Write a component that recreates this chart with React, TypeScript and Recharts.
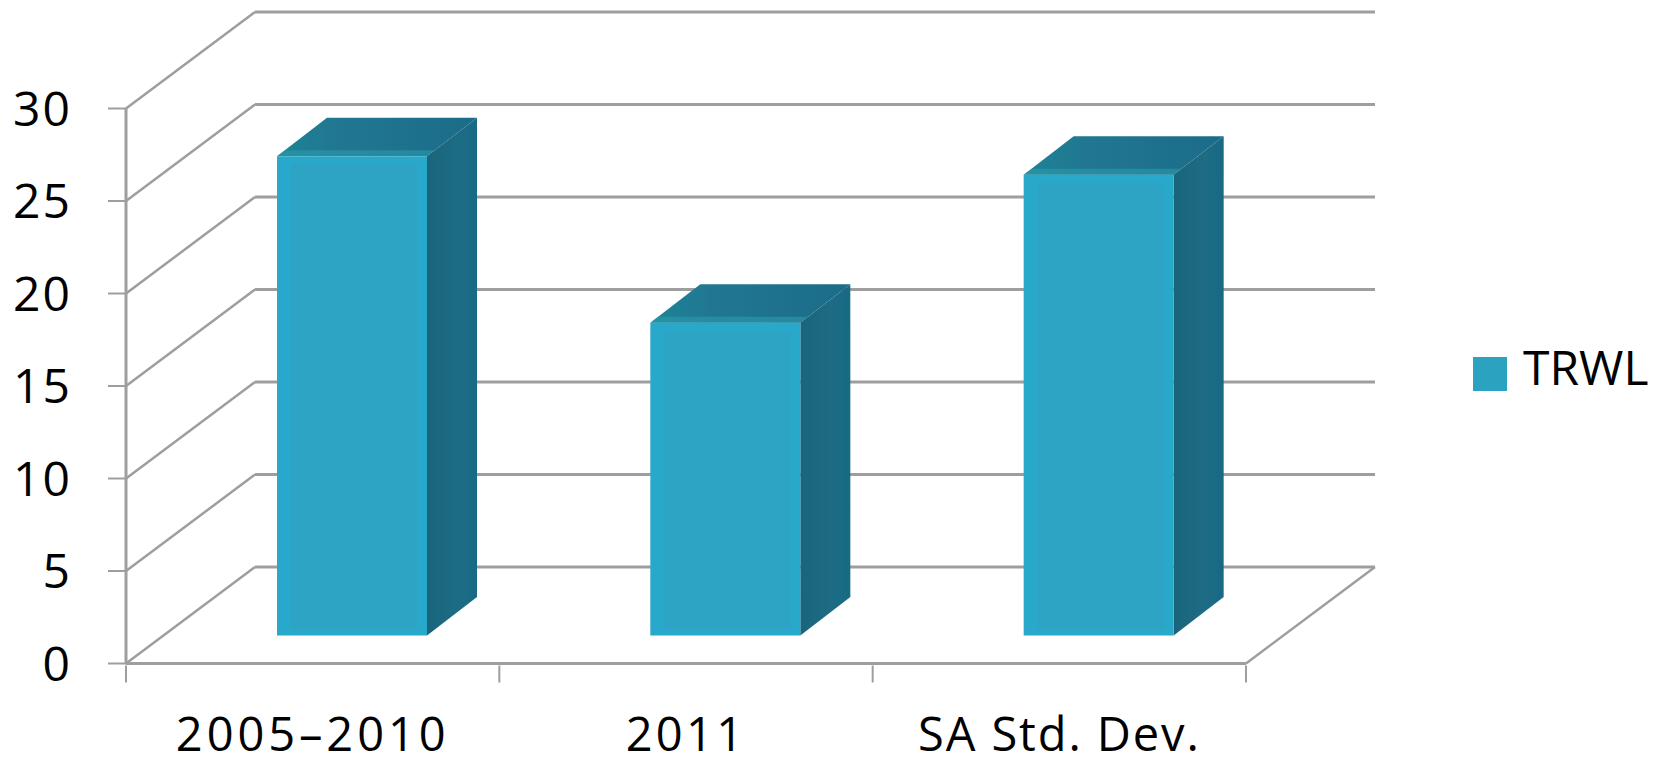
import { BarChart, Bar, XAxis, YAxis, CartesianGrid, Legend } from 'recharts';

const categories = ['2005–2010', '2011', 'SA Std. Dev.'];
const trwl = [25.9, 16.9, 24.9];
const yTicks = [0, 5, 10, 15, 20, 25, 30];

const data = categories.map((name, i) => ({ name, TRWL: trwl[i] }));

const FONT = '"Open Sans", sans-serif';
const GRID = '#9e9e9e';
const BAND = 1120 / categories.length;
const LABEL_SPACING = [3.9, 3.3, 1.9];

// depth of the 3D box: back wall, and where the bars stand on the floor
const WALL_DX = 129;
const WALL_DY = -96.5;
const BAR_DX = 39;
const BAR_DY = -28;
const BOX_DX = 50;
const BOX_DY = -38.5;

function WallLine({ x1, y1, x2, y2, index }: any) {
  return (
    <g>
      <line x1={x1} y1={y1} x2={x1 + WALL_DX} y2={y1 + WALL_DY} stroke={GRID} strokeWidth={2.5} />
      <line x1={x1 + WALL_DX} y1={y1 + WALL_DY} x2={x2 + WALL_DX} y2={y2 + WALL_DY} stroke={GRID} strokeWidth={3} />
      {index === 0 && (
        <line x1={x2} y1={y2} x2={x2 + WALL_DX} y2={y2 + WALL_DY} stroke={GRID} strokeWidth={2.5} />
      )}
    </g>
  );
}

function Box3D({ x, y, width, height }: any) {
  const l = x + BAR_DX;
  const t = y + BAR_DY;
  const r = l + width;
  const b = t + height;
  return (
    <g>
      <polygon
        points={`${l},${t} ${l + BOX_DX},${t + BOX_DY} ${r + BOX_DX},${t + BOX_DY} ${r},${t}`}
        fill="url(#boxTop)"
      />
      <polygon
        points={`${l},${t} ${l + 8},${t - 6} ${r + 8},${t - 6} ${r},${t}`}
        fill="#2a9fb2"
        opacity={0.55}
      />
      <polygon
        points={`${r},${t} ${r + BOX_DX},${t + BOX_DY} ${r + BOX_DX},${b + BOX_DY} ${r},${b}`}
        fill="url(#boxSide)"
      />
      <rect x={l} y={t} width={width} height={height} fill="#28a8ca" />
      <rect x={l + 14} y={t + 8} width={width - 24} height={height - 14} fill="#2da4c3" />
    </g>
  );
}

function CategoryTick({ x, y, payload, index }: any) {
  return (
    <g>
      <line x1={x - BAND / 2} y1={y} x2={x - BAND / 2} y2={y + 17} stroke={GRID} strokeWidth={2} />
      {index === categories.length - 1 && (
        <line x1={x + BAND / 2} y1={y} x2={x + BAND / 2} y2={y + 17} stroke={GRID} strokeWidth={2} />
      )}
      <text
        x={x}
        y={y + 85}
        textAnchor="middle"
        fontFamily={FONT}
        fontSize={47}
        letterSpacing={LABEL_SPACING[index]}
        fill="#000"
      >
        {payload.value}
      </text>
    </g>
  );
}

export default function App() {
  return (
    <div style={{ position: 'absolute', left: 0, top: 0, width: 1663, height: 757, background: '#fff' }}>
      <BarChart
        width={1663}
        height={757}
        data={data}
        margin={{ top: 108.5, right: 417, bottom: 0, left: 0 }}
        barSize={150}
      >
        <defs>
          <linearGradient id="boxTop" x1="0" y1="0" x2="1" y2="0">
            <stop offset="0%" stopColor="#1c8494" />
            <stop offset="30%" stopColor="#217792" />
            <stop offset="100%" stopColor="#1b6c88" />
          </linearGradient>
          <linearGradient id="boxSide" x1="0" y1="0" x2="1" y2="0">
            <stop offset="0%" stopColor="#18657c" />
            <stop offset="60%" stopColor="#1e6c84" />
            <stop offset="100%" stopColor="#176a84" />
          </linearGradient>
        </defs>
        <CartesianGrid vertical={false} horizontal={(props: any) => <WallLine {...props} />} />
        <XAxis
          dataKey="name"
          height={93.5}
          interval={0}
          tickSize={0}
          tickLine={false}
          tick={<CategoryTick />}
          axisLine={{ stroke: GRID, strokeWidth: 3 }}
        />
        <YAxis
          width={126}
          domain={[0, 30]}
          ticks={yTicks}
          interval={0}
          tickSize={18}
          tickMargin={36}
          tickLine={{ stroke: GRID, strokeWidth: 2 }}
          axisLine={{ stroke: GRID, strokeWidth: 3 }}
          tick={{ fill: '#000', fontSize: 48, fontFamily: FONT, letterSpacing: 2 }}
        />
        <Bar dataKey="TRWL" fill="#2ba2c0" shape={<Box3D />} isAnimationActive={false} />
        <Legend
          layout="vertical"
          align="center"
          verticalAlign="middle"
          iconType="square"
          iconSize={34}
          wrapperStyle={{ left: 1473, top: 336, width: 190, fontFamily: FONT, fontSize: 48 }}
          formatter={(value: string) => (
            <span style={{ color: '#000', marginLeft: 12, position: 'relative', top: -2 }}>{value}</span>
          )}
        />
      </BarChart>
    </div>
  );
}
